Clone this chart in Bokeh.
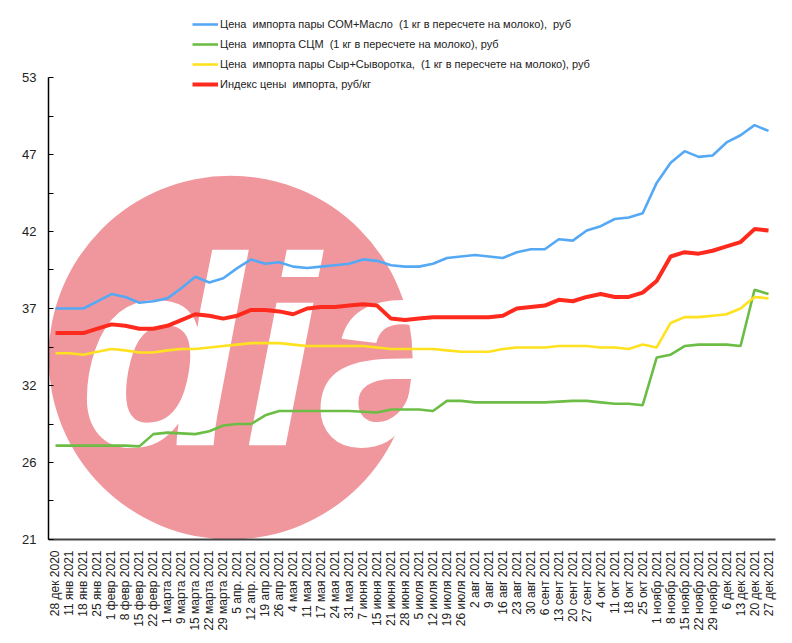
import numpy as np
from bokeh.plotting import figure
from bokeh.models import Range1d, FixedTicker, Legend, LegendItem
from bokeh.core.properties import value
from bokeh.embed import file_html
from bokeh.resources import INLINE

dates = ["28 дек 2020", "11 янв 2021", "18 янв 2021", "25 янв 2021", "1 февр 2021",
         "8 февр 2021", "15 февр 2021", "22 февр 2021", "1 марта 2021", "9 марта 2021",
         "15 марта 2021", "22 марта 2021", "29 марта 2021", "5 апр. 2021", "12 апр. 2021",
         "19 апр 2021", "26 апр 2021", "4 мая 2021", "11 мая 2021", "17 мая 2021",
         "24 мая 2021", "31 мая 2021", "7 июня 2021", "15 июня 2021", "21 июня 2021",
         "28 июня 2021", "5 июля 2021", "12 июля 2021", "19 июля 2021", "26 июля 2021",
         "2 авг 2021", "9 авг 2021", "16 авг 2021", "23 авг 2021", "30 авг 2021",
         "6 сент 2021", "13 сент 2021", "20 сент 2021", "27 сент 2021", "4 окт 2021",
         "11 окт 2021", "18 окт 2021", "25 окт 2021", "1 ноябр 2021", "8 ноябр 2021",
         "15 ноябр 2021", "22 ноябр 2021", "29 ноябр 2021", "6 дек 2021", "13 дек 2021",
         "20 дек 2021", "27 дек 2021"]

som_maslo = [37.0, 37.0, 37.0, 37.5, 38.0, 37.8, 37.4, 37.5, 37.7, 38.4,
             39.2, 38.8, 39.1, 39.8, 40.4, 40.1, 40.2, 39.9, 39.8, 39.9,
             40.0, 40.1, 40.4, 40.3, 40.0, 39.9, 39.9, 40.1, 40.5, 40.6,
             40.7, 40.6, 40.5, 40.9, 41.1, 41.1, 41.8, 41.7, 42.4, 42.7,
             43.2, 43.3, 43.6, 45.7, 47.1, 47.9, 47.5, 47.6, 48.5, 49.0,
             49.7, 49.3]

scm = [27.5, 27.5, 27.5, 27.5, 27.5, 27.5, 27.45, 28.3, 28.4, 28.35,
       28.3, 28.5, 28.9, 29.0, 29.0, 29.6, 29.9, 29.9, 29.9, 29.9,
       29.9, 29.9, 29.85, 29.8, 30.0, 30.0, 30.0, 29.9, 30.6, 30.6,
       30.5, 30.5, 30.5, 30.5, 30.5, 30.5, 30.55, 30.6, 30.6, 30.5,
       30.4, 30.4, 30.3, 33.6, 33.8, 34.4, 34.5, 34.5, 34.5, 34.4,
       38.3, 38.0]

syr_syv = [33.9, 33.9, 33.8, 34.0, 34.2, 34.1, 33.95, 33.95, 34.1, 34.2,
           34.2, 34.3, 34.4, 34.5, 34.6, 34.6, 34.6, 34.5, 34.4, 34.4,
           34.4, 34.4, 34.4, 34.3, 34.2, 34.2, 34.2, 34.2, 34.1, 34.0,
           34.0, 34.0, 34.2, 34.3, 34.3, 34.3, 34.4, 34.4, 34.4, 34.3,
           34.3, 34.2, 34.5, 34.3, 36.0, 36.4, 36.4, 36.5, 36.6, 37.0,
           37.8, 37.7]

index_price = [35.3, 35.3, 35.3, 35.6, 35.9, 35.8, 35.6, 35.6, 35.8, 36.2,
               36.6, 36.5, 36.3, 36.5, 36.9, 36.9, 36.8, 36.6, 37.0, 37.1,
               37.1, 37.2, 37.3, 37.2, 36.3, 36.2, 36.3, 36.4, 36.4, 36.4,
               36.4, 36.4, 36.5, 37.0, 37.1, 37.2, 37.6, 37.5, 37.8, 38.0,
               37.8, 37.8, 38.1, 38.9, 40.6, 40.9, 40.8, 41.0, 41.3, 41.6,
               42.5, 42.4]

y_ticks = [21, 26.333, 31.667, 37, 42.333, 47.667, 53]
y_tick_labels = ["21", "26", "32", "37", "42", "47", "53"]
y_minor = [23.667, 29, 34.333, 39.667, 45, 50.333]

labels = ["Цена  импорта пары СОМ+Масло  (1 кг в пересчете на молоко),  руб",
          "Цена  импорта СЦМ  (1 кг в пересчете на молоко), руб",
          "Цена  импорта пары Сыр+Сыворотка,  (1 кг в пересчете на молоко), руб",
          "Индекс цены  импорта, руб/кг"]

x = list(range(len(dates)))

# frame: 48..775 px wide, 10..539 px tall; axis 21..53 occupies 77..539
y_top = 53 + (77 - 10) / (462 / 32)

p = figure(width=792, height=643, output_backend="svg", toolbar_location=None,
           x_range=Range1d(-0.5, len(dates) - 0.5), y_range=Range1d(21, y_top),
           min_border_left=48, min_border_right=17, min_border_top=10,
           min_border_bottom=104)
p.outline_line_color = None
p.xgrid.visible = False
p.ygrid.visible = False
p.background_fill_color = "white"
p.border_fill_color = "white"

# watermark
p.circle(x=[12.52], y=[33.6], radius=182, radius_units="screen",
         fill_color="#F0979E", line_color=None)
p.text(x=[1.7], y=[34.0], text=["dia"], text_color="white",
       text_font=value("Liberation Sans"), text_font_style="bold italic",
       text_font_size="270px", text_baseline="alphabetic", text_align="left")

r_blue = p.line(x, som_maslo, line_color="#55A9F4", line_width=2.6)
r_green = p.line(x, scm, line_color="#6CBD45", line_width=2.6)
r_yellow = p.line(x, syr_syv, line_color="#FFE11F", line_width=2.6)
r_red = p.line(x, index_price, line_color="#FF2A1E", line_width=4)

# axes
p.xaxis.ticker = FixedTicker(ticks=x)
p.xaxis.major_label_overrides = {i: d for i, d in zip(x, dates)}
p.xaxis.major_label_orientation = np.pi / 2
p.xaxis.major_tick_line_color = None
p.xaxis.minor_tick_line_color = None
p.xaxis.axis_line_color = "#444444"
p.xaxis.axis_line_width = 2
p.xaxis.major_label_standoff = 5
p.xaxis.major_label_text_font = "Liberation Sans"
p.xaxis.major_label_text_font_size = "12px"
p.xaxis.major_label_text_color = "#222222"

p.yaxis.bounds = (21, 53)
p.yaxis.ticker = FixedTicker(ticks=y_ticks, minor_ticks=y_minor)
p.yaxis.major_label_overrides = {t: l for t, l in zip(y_ticks, y_tick_labels)}
p.yaxis.major_tick_in = 5
p.yaxis.major_tick_out = 0
p.yaxis.minor_tick_in = 5
p.yaxis.minor_tick_out = 0
p.yaxis.axis_line_color = "black"
p.yaxis.axis_line_width = 1.5
p.yaxis.major_tick_line_color = "black"
p.yaxis.minor_tick_line_color = "black"
p.yaxis.major_label_standoff = 12
p.yaxis.major_label_text_font = "Liberation Sans"
p.yaxis.major_label_text_font_size = "13px"
p.yaxis.major_label_text_color = "#222222"

legend = Legend(items=[LegendItem(label=labels[0], renderers=[r_blue]),
                       LegendItem(label=labels[1], renderers=[r_green]),
                       LegendItem(label=labels[2], renderers=[r_yellow]),
                       LegendItem(label=labels[3], renderers=[r_red])],
                location=(144, 445), orientation="vertical",
                border_line_color=None, background_fill_alpha=0,
                padding=0, margin=0, spacing=0, label_height=20,
                glyph_height=20, glyph_width=26, label_standoff=2,
                label_text_font="Liberation Sans", label_text_font_size="11px",
                label_text_color="#222222")
p.add_layout(legend, "center")

open("out.html", "w").write(file_html(p, INLINE))
